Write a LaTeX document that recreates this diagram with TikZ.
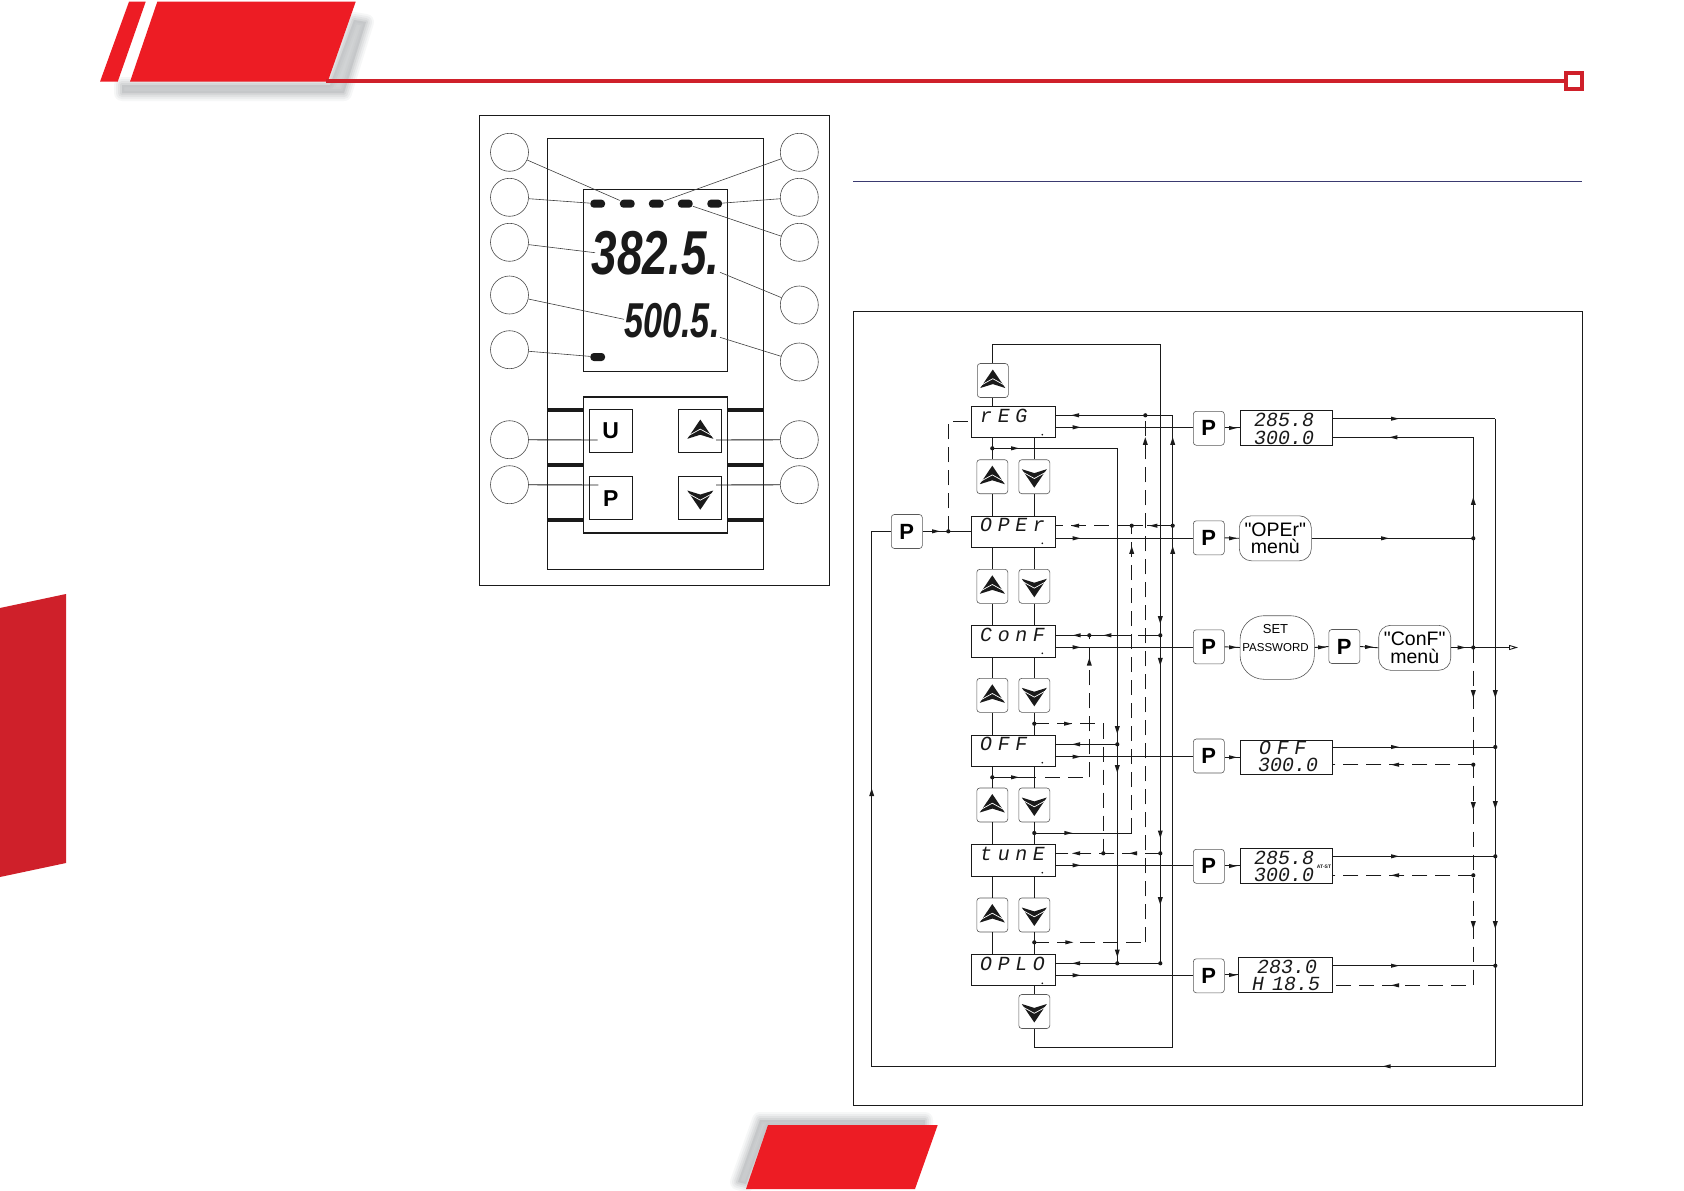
\documentclass[tikz,border=0pt]{standalone}
\usepackage{fontspec}
\usetikzlibrary{arrows.meta}
\setmainfont{Liberation Sans}
\newfontfamily\menufont{Liberation Sans}
\newfontfamily\lcdfont[FakeSlant=0.18]{Liberation Mono}
\newfontfamily\lcdwide[FakeSlant=0.18,LetterSpace=28]{Liberation Mono}
\newfontfamily\bigA[FakeStretch=0.74]{Liberation Sans}
\newfontfamily\bigB[FakeStretch=0.70]{Liberation Sans}
\definecolor{redA}{HTML}{ED1C24}
\definecolor{redB}{HTML}{CF202A}
\definecolor{shadowG}{HTML}{BCBEC0}
\definecolor{ruleV}{HTML}{3A3A70}
\definecolor{inkK}{HTML}{1A1A1A}
\tikzset{
  wire/.style={draw=inkK,line width=0.9pt},
  dashwire/.style={draw=inkK,line width=0.9pt,dash pattern=on 15pt off 8pt},
  jdot/.style={fill=inkK},
  frameb/.style={draw=inkK,line width=1pt},
  dispbox/.style={draw=inkK,line width=0.9pt,minimum width=84pt,inner sep=0pt},
  resbox/.style={draw=inkK,line width=0.9pt,minimum width=92.4pt,minimum height=35pt,inner sep=0pt},
  softbox/.style={draw=black!65,line width=0.6pt,rounded corners=12pt,minimum width=72pt,minimum height=45pt,inner sep=0pt,align=center,font=\menufont\fontsize{19.5}{17.7}\selectfont},
  keyb/.style={draw=black!65,line width=0.6pt,rounded corners=3pt,minimum width=31pt,minimum height=34pt,inner sep=0pt},
  pkey/.style={keyb,font=\fontsize{22}{22}\selectfont\bfseries},
  panelkey/.style={draw=inkK,line width=1pt,minimum width=42.7pt,minimum height=42.7pt,inner sep=0pt,font=\fontsize{23}{23}\selectfont\bfseries},
  callout/.style={circle,draw=black!70,line width=0.6pt,minimum size=38pt,inner sep=0pt},
  leader/.style={draw=black!75,line width=0.6pt},
  keylead/.style={draw=inkK,line width=0.9pt},
  ledm/.style={rectangle,rounded corners=3.5pt,fill=inkK,minimum width=14.7pt,minimum height=8pt,inner sep=0pt},
  lcdtxt/.style={inner sep=0pt,anchor=base,font=\lcdfont\fontsize{20}{20}\selectfont,text=inkK},
  lcdname/.style={inner sep=0pt,anchor=base west,font=\lcdwide\fontsize{20}{20}\selectfont,text=inkK}
}
\newcommand\arR[2]{\fill[inkK] ({#1-4},{#2-2.1}) -- ({#1+4},{#2}) -- ({#1-4},{#2+2.1}) -- cycle;}
\newcommand\arL[2]{\fill[inkK] ({#1+4},{#2-2.1}) -- ({#1-4},{#2}) -- ({#1+4},{#2+2.1}) -- cycle;}
\newcommand\arU[2]{\fill[inkK] ({#1-2.5},{#2+3.8}) -- ({#1},{#2-3.8}) -- ({#1+2.5},{#2+3.8}) -- cycle;}
\newcommand\arD[2]{\fill[inkK] ({#1-2.5},{#2-3.8}) -- ({#1},{#2+3.8}) -- ({#1+2.5},{#2-3.8}) -- cycle;}
\newcommand\icoUp[2][1]{\begin{scope}[shift={(#2.center)},scale=#1]
  \fill[inkK] (0,-11) -- (12.5,7.5) -- (0,3.6) -- (-12.5,7.5) -- cycle;
  \draw[white,line width=0.7pt] (-12,4.8) -- (0,-1.8) -- (12,4.8);
\end{scope}}
\newcommand\icoDn[2][1]{\begin{scope}[shift={(#2.center)},scale=#1]
  \fill[inkK] (0,11) -- (12.5,-7.5) -- (0,-3.6) -- (-12.5,-7.5) -- cycle;
  \draw[white,line width=0.7pt] (-12,-4.8) -- (0,1.8) -- (12,-4.8);
\end{scope}}
\newcommand\jd[1]{\fill[jdot] (#1) circle (2.1pt);}
\begin{document}
\begin{tikzpicture}[x=1pt,y=-1pt]
\useasboundingbox (0,0) rectangle (1684,1191);
\fill[white] (0,0) rectangle (1684,1191);

% ---- shadows
\foreach \w/\o in {16/.12,12/.16,8/.22,4/.3}{
  \draw[shadowG,fill=shadowG,line width=\w pt,line join=round,opacity=\o]
    (122,85) -- (330,85) -- (354,20) -- (366,22) -- (344,93) -- (122,93) -- cycle;
  \draw[shadowG,fill=shadowG,line width=\w pt,line join=round,opacity=\o]
    (760,1120) -- (925,1120) -- (925,1125) -- (768,1125) -- (746,1184) -- (738,1182) -- cycle;
}
% ---- page furniture
\fill[redA] (129,1.7) -- (145.7,1.7) -- (117.7,81.7) -- (100,81.7) -- cycle;
\fill[redA] (157.3,1.7) -- (355.7,1.7) -- (327.7,81.7) -- (130,81.7) -- cycle;
\draw[redB,line width=3.6pt] (326,80.8) -- (1566,80.8);
\draw[redB,line width=4pt] (1566,73) rectangle (1582,88.7);
\fill[redB] (0,608) -- (66,594) -- (66,863) -- (0,877) -- cycle;
\fill[redA] (768,1125) -- (937.7,1125) -- (915,1189) -- (746,1189) -- cycle;
\draw[ruleV,line width=1pt] (853,181.7) -- (1582,181.7);

% ---- instrument front panel
\draw[frameb] (479.3,115.3) rectangle (829.7,585.3);
\draw[inkK,line width=1.3pt] (547.7,138.7) rectangle (763.3,569.3);
\draw[inkK,line width=1.3pt] (583.3,189.3) rectangle (727.3,371.3);
\draw[inkK,line width=1.3pt] (583.3,397) rectangle (727.3,533);
\foreach \yy in {410,465,519.7}{
  \draw[inkK,line width=4pt] (547.7,\yy) -- (583.3,\yy);
  \draw[inkK,line width=4pt] (727.3,\yy) -- (763.3,\yy);
}
\foreach \n/\xx/\yy in {led1/597.7/203.7,led2/627.3/203.7,led3/656.3/203.7,led4/685.3/203.7,led5/714.7/203.7,led6/597.7/357}{
  \node[ledm] (\n) at (\xx,\yy) {};
}
\node[inner sep=0pt,anchor=base west,font=\bigA\bfseries\itshape\fontsize{62}{62}\selectfont,text=inkK] (big1) at (591.7,274) {382.5.};
\node[inner sep=0pt,anchor=base west,font=\bigB\bfseries\itshape\fontsize{49}{49}\selectfont,text=inkK] (big2) at (624,337.7) {500.5.};
\coordinate (tBig1) at (595,252.7);
\coordinate (tBig2) at (624,319.3);
\coordinate (tDot1) at (720,272.3);
\coordinate (tDot2) at (720,337.3);
\node[panelkey] (kU) at (610.7,431) {U};
\node[panelkey] (kUp) at (700.3,431) {};
\node[panelkey] (kP) at (610.7,498.3) {P};
\node[panelkey] (kDn) at (700.3,498.3) {};
\icoUp[1.04]{kUp}
\icoDn[1.04]{kDn}
\coordinate (tU) at (597.7,440);
\coordinate (tP) at (598.3,485);
\coordinate (tUp) at (716,440);
\coordinate (tDn) at (716,485);
\foreach \n/\yy in {L1/152.3,L2/197.3,L3/242.3,L4/295,L5/349.7,L6/439.7,L7/484.7}{
  \node[callout] (\n) at (509.5,\yy) {};
}
\foreach \n/\yy in {R1/152.3,R2/197.3,R3/242.3,R4/305,R5/362,R6/439.7,R7/484.7}{
  \node[callout] (\n) at (799.3,\yy) {};
}
\draw[leader] (L1) -- (led2);
\draw[leader] (L2) -- (led1);
\draw[leader] (L3) -- (tBig1);
\draw[leader] (L4) -- (tBig2);
\draw[leader] (L5) -- (led6);
\draw[leader] (R1) -- (led3);
\draw[leader] (R2) -- (led5);
\draw[leader] (R3) -- (led4);
\draw[leader] (R4) -- (tDot1);
\draw[leader] (R5) -- (tDot2);
\draw[keylead] (L6) -- (tU);
\draw[keylead] (L7) -- (tP);
\draw[keylead] (R6) -- (tUp);
\draw[keylead] (R7) -- (tDn);

% ---- flow chart frame
\draw[frameb] (853,311.5) rectangle (1582,1105);

% display boxes
\node[dispbox,minimum height=31pt] (bReg) at (1013.8,421.8) {};
\node[dispbox,minimum height=30.6pt] (bOper) at (1013.5,532) {};
\node[dispbox,minimum height=31.3pt] (bConf) at (1013.5,641.3) {};
\node[dispbox,minimum height=31pt] (bOff) at (1013.5,750.8) {};
\node[dispbox,minimum height=31.3pt] (bTune) at (1013.5,860.3) {};
\node[dispbox,minimum height=30.6pt] (bOplo) at (1013.5,970) {};
\node[lcdname] (nReg) at (979,422) {rEG};
\node[lcdname] (nOper) at (979,531.7) {OPEr};
\node[lcdname] (nConf) at (979,641.7) {ConF};
\node[lcdname] (nOff) at (979,750.7) {OFF};
\node[lcdname] (nTune) at (979,860.7) {tunE};
\node[lcdname] (nOplo) at (979,970.7) {OPLO};
\foreach \yy in {434.7,543.3,653.3,762.7,872.7,983.3}{\fill[inkK] (1042.3,\yy) circle (0.9pt);}

% arrow keys
\node[keyb] (uT) at (992.8,380.5) {};
\foreach \n/\yy in {1/476.7,2/586.3,3/695.3,4/805,5/915}{
  \node[keyb] (u\n) at (992.3,\yy) {};
  \node[keyb] (d\n) at (1034.3,\yy) {};
  \icoUp{u\n}
  \icoDn{d\n}
}
\node[keyb] (d6) at (1034.3,1011.5) {};
\icoUp{uT}
\icoDn{d6}

% P keys
\node[pkey] (pL) at (906.8,531.5) {P};
\node[pkey] (p1) at (1208.8,428.3) {P};
\node[pkey] (p2) at (1208.8,537.8) {P};
\node[pkey] (p3) at (1208.8,646.8) {P};
\node[pkey] (p4) at (1208.8,756) {P};
\node[pkey] (p5) at (1208.8,866.3) {P};
\node[pkey] (p6) at (1208.8,975.8) {P};
\node[pkey] (pC) at (1344.3,646.5) {P};

% result displays
\node[resbox] (r1) at (1286.5,427.8) {};
\node[softbox] (mOper) at (1275.3,538.3) {"OPEr"\\menù};
\node[softbox,rounded corners=24pt,minimum width=74.3pt,minimum height=63.6pt] (setpw) at (1277.2,647.5) {};
\node[inner sep=0pt,anchor=base,font=\fontsize{13}{13}\selectfont] (tSet) at (1275.5,633.3) {SET};
\node[inner sep=0pt,anchor=base,font=\fontsize{11.5}{11.5}\selectfont] (tPw) at (1275.5,651.7) {PASSWORD};
\node[softbox] (mConf) at (1414.7,647.8) {"ConF"\\menù};
\node[resbox,minimum height=34pt] (r4) at (1286.5,757.3) {};
\node[resbox] (r5) at (1286.5,865.8) {};
\node[resbox,minimum width=94pt] (r6) at (1285.5,974.8) {};
\node[lcdtxt] (v1a) at (1283,426) {285.8};
\node[lcdtxt] (v1b) at (1283,444) {300.0};
\node[lcdname] (v4a) at (1258,754.3) {OFF};
\node[lcdtxt] (v4b) at (1287,771.7) {300.0};
\node[lcdtxt] (v5a) at (1283,864.3) {285.8};
\node[lcdtxt] (v5b) at (1283,881.7) {300.0};
\node[inner sep=0pt,font=\fontsize{5}{5}\selectfont\bfseries,text=inkK] (v5c) at (1324,866.5) {AT-ST};
\node[lcdtxt] (v6a) at (1286,973.3) {283.0};
\node[lcdtxt] (v6b) at (1285,990) {H\hspace{-4pt} 18.5};

% ---- junctions
\coordinate (jRegIn) at (1055.7,415.3);  \coordinate (jRegOut) at (1055.7,427.3);
\coordinate (jOpIn) at (1055.7,525.7);   \coordinate (jOpOut) at (1055.7,538.3);
\coordinate (jCoIn) at (1055.7,635.3);   \coordinate (jCoOut) at (1055.7,647.3);
\coordinate (jOfIn) at (1055.7,744.3);   \coordinate (jOfOut) at (1055.7,756.7);
\coordinate (jTuIn) at (1055.7,853.3);   \coordinate (jTuOut) at (1055.7,865.3);
\coordinate (jPlIn) at (1055.7,963.3);   \coordinate (jPlOut) at (1055.7,975.3);
\coordinate (xa) at (1117.3,448.3);
\coordinate (ua) at (992.3,448.3);
\coordinate (xb) at (1131.7,525.7);
\coordinate (xc) at (1145.3,415.3);
\coordinate (xd) at (1160.3,344.3);
\coordinate (xe) at (1172.7,415.3);
\coordinate (xf) at (1089.3,635.3);
\coordinate (xg) at (1103.3,853.3);
\coordinate (jOffA) at (1117.3,744.3);
\coordinate (jPlA) at (1117.3,963.3);
\coordinate (jConfD) at (1160.3,635.3);
\coordinate (jTuneD) at (1160.3,853.3);
\coordinate (jPlD) at (1160.3,963.3);
\coordinate (jOpE) at (1172.7,525.7);
\coordinate (sU3) at (992.3,777.3);
\coordinate (sD2) at (1034.3,723.7);
\coordinate (sD3) at (1034.3,833);
\coordinate (sD4) at (1034.3,942.3);
\coordinate (cB) at (1131.7,833);
\coordinate (cC) at (1145.3,942.3);
\coordinate (cF) at (1089.3,777.3);
\coordinate (cG) at (1103.3,723.7);
\coordinate (botE) at (1172.7,1047.3);
\coordinate (joinL) at (948.3,531.3);
\coordinate (leftTop) at (948.3,421.3);
\coordinate (corL) at (871.7,531.3);
\coordinate (corB) at (871.7,1066.3);
\coordinate (corR) at (1495.3,1066.3);
\coordinate (xR) at (1495.3,418.7);
\coordinate (xS) at (1473.3,437.3);
\coordinate (jSo) at (1473.3,538.3);
\coordinate (jSc) at (1473.3,647.5);
\coordinate (jS4) at (1473.3,764.7);
\coordinate (jS5) at (1473.3,875.3);
\coordinate (jS6) at (1473.3,985.3);
\coordinate (jR4) at (1495.3,747);
\coordinate (jR5) at (1495.3,856.3);
\coordinate (jR6) at (1495.3,965.7);
\coordinate (exit) at (1518,647.5);

% ---- vertical key links
\draw[wire] (uT.north) |- (xd) -- (jPlD);
\draw[wire] (uT.south) -- (uT.south |- bReg.north);
\foreach \t/\k/\b in {bReg/u1/bOper,bOper/u2/bConf,bConf/u3/bOff,bOff/u4/bTune,bTune/u5/bOplo}{
  \draw[wire] (\k.north |- \t.south) -- (\k.north);
  \draw[wire] (\k.south) -- (\k.south |- \b.north);
}
\foreach \t/\k/\b in {bReg/d1/bOper,bOper/d2/bConf,bConf/d3/bOff,bOff/d4/bTune,bTune/d5/bOplo}{
  \draw[wire] (\k.north |- \t.south) -- (\k.north);
  \draw[wire] (\k.south) -- (\k.south |- \b.north);
}
\draw[wire] (d6.north |- bOplo.south) -- (d6.north);
\draw[wire] (d6.south) -- (d6.south |- botE) -- (botE) -- (xe);

% ---- box <-> P lines
\draw[wire] (xe) -- (jRegIn);
\draw[wire] (jRegOut) -- (jRegOut -| p1.west);
\draw[wire] (jOpE) -- (1147,525.7);
\draw[wire] (1143,525.7) -- (xb);
\draw[dashwire] (xb) -- (jOpIn);
\draw[wire] (jOpOut) -- (jOpOut -| p2.west);
\draw[wire] (jConfD) -- (1138.3,635.3);
\draw[wire] (1131.7,635.3) -- (jCoIn);
\draw[wire] (jCoOut) -- (jCoOut -| p3.west);
\draw[wire] (jOffA) -- (jOfIn);
\draw[wire] (jOfOut) -- (jOfOut -| p4.west);
\draw[dashwire] (jTuneD) -- (jTuIn);
\draw[wire] (jTuOut) -- (jTuOut -| p5.west);
\draw[wire] (jPlD) -- (jPlIn);
\draw[wire] (jPlOut) -- (jPlOut -| p6.west);

% ---- long verticals
\draw[wire] (ua) -- (xa) -- (jPlA);
\draw[dashwire] (cB) -- (xb);
\draw[wire] (sD3) -- (cB);
\draw[dashwire] (cC) -- (xc);
\draw[dashwire] (sD4) -- (cC);
\draw[dashwire] (cF) -- (xf);
\draw[wire] (sU3) -- (1036,777.3);
\draw[dashwire] (1045,777.3) -- (cF);
\draw[dashwire] (sD2) -- (cG) -- (xg);

% ---- left P
\draw[wire] (pL.east |- joinL) -- (joinL -| bOper.west);
\draw[dashwire] (joinL) -- (leftTop) -- (leftTop -| bReg.west);
\draw[wire] (pL.west |- corL) -- (corL) -- (corB) -- (corR) -- (xR);

% ---- right part
\draw[wire] (p1.east |- r1.west) -- (r1.west);
\draw[wire] (p2.east) -- (mOper.west);
\draw[wire] (p3.east) -- (setpw.west);
\draw[wire] (setpw.east) -- (pC.west);
\draw[wire] (pC.east) -- (mConf.west);
\draw[wire] (p4.east |- r4.west) -- (r4.west);
\draw[wire] (p5.east |- r5.west) -- (r5.west);
\draw[wire] (p6.east |- r6.west) -- (r6.west);
\draw[wire] (r1.east |- xR) -- (xR);
\draw[wire] (r1.east |- xS) -- (xS) -- (jSc);
\draw[wire] (mOper.east |- jSo) -- (jSo);
\draw[wire] (mConf.east |- jSc) -- (jSc);
\draw[wire,-{Triangle[open,length=9pt,width=5pt]}] (jSc) -- (exit);
\draw[dashwire] (jSc) -- (jS6) -- (jS6 -| r6.east);
\draw[dashwire] (jS4) -- (jS4 -| r4.east);
\draw[dashwire] (jS5) -- (jS5 -| r5.east);
\draw[wire] (jR4 -| r4.east) -- (jR4);
\draw[wire] (jR5 -| r5.east) -- (jR5);
\draw[wire] (jR6 -| r6.east) -- (jR6);

% ---- dots
\foreach \c in {ua,xb,xc,xf,xg,jOffA,jPlA,jConfD,jTuneD,jPlD,jOpE,sU3,sD2,sD3,sD4,joinL,jSo,jSc,jS4,jS5,jR4,jR5,jR6}{\jd{\c}}

% ---- arrowheads
\arL{1075}{415.3}\arR{1076.7}{427.3}\arR{1015}{448.3}
\arL{1075}{525.7}\arL{1153.3}{525.7}\arR{1076.7}{538.3}
\arL{1076.7}{635.3}\arL{1107.3}{635.3}\arR{1076.7}{647.3}
\arR{1068}{723.7}\arL{1076}{744.3}\arR{1076.7}{756.7}\arR{1015}{777.3}
\arR{1068.3}{833}\arL{1076}{853.3}\arL{1133}{853.3}\arR{1076.7}{865.3}
\arR{1069.3}{942.3}\arL{1076}{963.3}\arR{1076.7}{975.3}
\arU{1145.3}{441}\arU{1172.7}{441}\arU{1131.7}{550}\arU{1172.7}{550}
\arD{1160.3}{620}\arD{1160.3}{661.7}\arU{1089.3}{661.7}
\arD{1117.3}{730}\arD{1117.3}{769}\arD{1160.3}{834.3}\arD{1160.3}{901}\arD{1117.3}{953.3}
\arR{936}{531.3}\arU{871.7}{792.3}\arL{1386.7}{1066.3}
\arR{1233}{428}\arR{1233}{538.3}\arR{1233}{647.3}\arR{1233}{757.3}\arR{1233}{866}\arR{1233}{975}
\arR{1322}{647.3}\arR{1369}{647}\arR{1461.7}{647.5}
\arR{1395}{418.7}\arL{1393.3}{437.3}\arR{1385}{538.3}
\arU{1473.3}{501}\arD{1473.3}{694}\arD{1495.3}{694}
\arR{1395}{747}\arL{1395}{764.7}\arD{1473.3}{806}\arD{1495.3}{805}
\arR{1395}{856.3}\arL{1395}{875.3}\arD{1473.3}{925}\arD{1495.3}{925}
\arR{1395}{965.7}\arL{1395}{985.3}
\end{tikzpicture}
\end{document}
